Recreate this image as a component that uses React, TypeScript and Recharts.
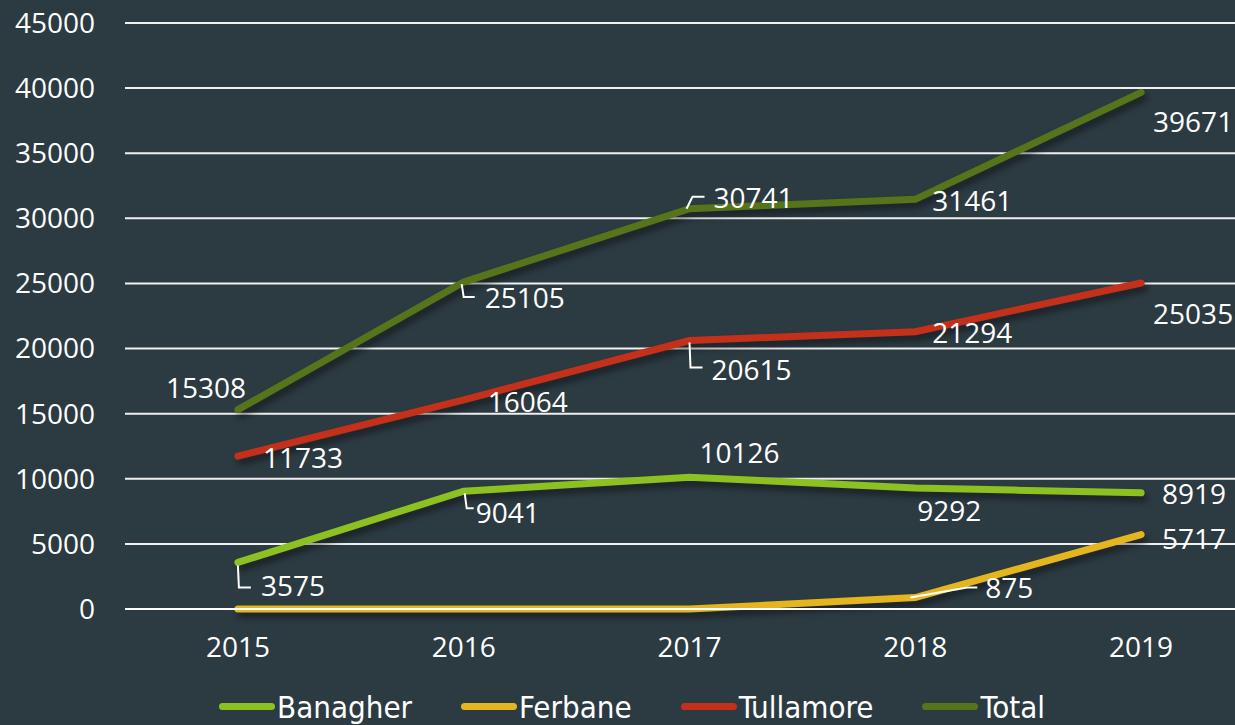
import { LineChart, Line, XAxis, YAxis, CartesianGrid, Legend } from 'recharts';

const years = ['2015', '2016', '2017', '2018', '2019'];
const banagher = [3575, 9041, 10126, 9292, 8919];
const ferbane = [0, 0, 0, 875, 5717];
const tullamore = [11733, 16064, 20615, 21294, 25035];
const total = [15308, 25105, 30741, 31461, 39671];
const yTicks = [0, 5000, 10000, 15000, 20000, 25000, 30000, 35000, 40000, 45000];

const data = years.map((year, i) => ({
  x: i,
  year,
  Banagher: banagher[i],
  Ferbane: ferbane[i],
  Tullamore: tullamore[i],
  Total: total[i],
}));

const BG = '#2c3a42';

type Place = { dx: number; dy: number; leader?: number[][] } | null;

// where each data label sits relative to its point (text start / vertical centre)
const placements: Record<string, Place[]> = {
  Banagher: [
    { dx: 23, dy: 23, leader: [[0, 3], [1, 25], [13, 25]] },
    { dx: 12, dy: 21, leader: [[1, 2], [3, 17], [10, 17]] },
    { dx: 10, dy: -25 },
    { dx: 2, dy: 22 },
    { dx: 21, dy: 0 },
  ],
  Ferbane: [
    null,
    null,
    null,
    { dx: 70, dy: -11, leader: [[-5, 0], [52, -10], [62, -10]] },
    { dx: 21, dy: 3 },
  ],
  Tullamore: [
    { dx: 25, dy: 1 },
    { dx: 24, dy: 1 },
    { dx: 22, dy: 28, leader: [[0, 2], [1, 27], [13, 27]] },
    { dx: 17, dy: 0 },
    { dx: 12, dy: 30 },
  ],
  Total: [
    { dx: -72, dy: -23 },
    { dx: 21, dy: 15, leader: [[-2, 2], [0, 15], [11, 15]] },
    { dx: 24, dy: -12, leader: [[-3, 0], [3, -12], [15, -12]] },
    { dx: 17, dy: 1 },
    { dx: 12, dy: 29 },
  ],
};

const series = [
  { key: 'Banagher', color: '#8dc021' },
  { key: 'Ferbane', color: '#e5b51f' },
  { key: 'Tullamore', color: '#c5301b' },
  { key: 'Total', color: '#56741a' },
];

const makeLabel = (key: string) => (props: any) => {
  const { x, y, index, value } = props;
  const p = placements[key][index];
  if (!p || x == null || y == null) return null;
  return (
    <g key={`${key}-${index}`}>
      {p.leader && (
        <polyline
          points={p.leader.map(([a, b]) => `${x + a},${y + b}`).join(' ')}
          fill="none"
          stroke="#ffffff"
          strokeWidth={2}
        />
      )}
      <text x={x + p.dx} y={y + p.dy} fill="#ffffff" fontSize={28} dominantBaseline="central">
        {value}
      </text>
    </g>
  );
};

const renderLegend = () => (
  <div
    style={{
      display: 'flex',
      alignItems: 'center',
      height: 56,
      paddingTop: 19,
      paddingLeft: 219,
      boxSizing: 'border-box',
      fontFamily: '"Liberation Sans Narrow", "DejaVu Sans Condensed", sans-serif',
      fontSize: 31,
      color: '#ffffff',
    }}
  >
    {series.map((s) => (
      <div key={s.key} style={{ display: 'flex', alignItems: 'center', marginRight: 49 }}>
        <div style={{ width: 56, height: 7, borderRadius: 4, background: s.color, marginRight: 2 }} />
        <span>{s.key}</span>
      </div>
    ))}
  </div>
);

export default function App() {
  return (
    <div
      style={{
        position: 'fixed',
        left: 0,
        top: 0,
        width: 1235,
        height: 725,
        overflow: 'hidden',
        background: BG,
        fontFamily: '"Open Sans", sans-serif',
      }}
    >
      <style>{`
        html, body { margin: 0; overflow: hidden; background: ${BG}; }
        .recharts-line-curve { filter: drop-shadow(3px 5px 3px rgba(0,0,0,0.45)); }
      `}</style>
      <LineChart width={1262} height={725} data={data} margin={{ top: 23, right: 8, left: 0, bottom: 0 }}>
        <CartesianGrid vertical={false} stroke="#f0f0f0" strokeWidth={2} />
        <XAxis
          xAxisId="marks"
          dataKey="x"
          type="number"
          domain={[-0.5, 4.5]}
          ticks={[-0.5, 0.5, 1.5, 2.5, 3.5, 4.5]}
          tickFormatter={() => ''}
          height={0}
          axisLine={false}
          tickLine={{ stroke: '#ffffff', strokeWidth: 2 }}
          tickSize={8}
        />
        <XAxis
          dataKey="x"
          type="number"
          domain={[-0.5, 4.5]}
          ticks={[0, 1, 2, 3, 4]}
          tickFormatter={(i: number) => years[i]}
          height={60}
          axisLine={{ stroke: '#ffffff', strokeWidth: 2 }}
          tickLine={false}
          tickSize={0}
          tickMargin={28}
          tick={{ fill: '#ffffff', fontSize: 28 }}
        />
        <YAxis
          domain={[0, 45000]}
          ticks={yTicks}
          width={125}
          axisLine={false}
          tickLine={false}
          tickSize={0}
          tickMargin={30}
          tick={{ fill: '#ffffff', fontSize: 28 }}
        />
        <Legend verticalAlign="bottom" height={56} content={renderLegend} wrapperStyle={{ left: 0, width: 1235 }} />
        {series.map((s) => (
          <Line
            key={s.key}
            dataKey={s.key}
            stroke={s.color}
            strokeWidth={7}
            strokeLinecap="round"
            dot={false}
            label={makeLabel(s.key)}
            isAnimationActive={false}
          />
        ))}
      </LineChart>
    </div>
  );
}
